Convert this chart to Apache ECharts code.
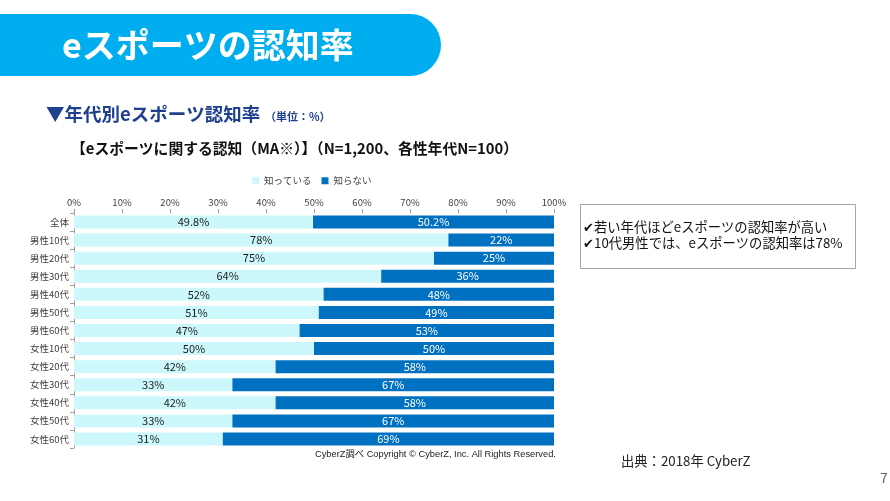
<!DOCTYPE html>
<html><head><meta charset="utf-8">
<script src="https://cdn.jsdelivr.net/npm/echarts@6/dist/echarts.min.js"></script>
<style>html,body{margin:0;padding:0;background:#fff}#c{width:890px;height:501px}</style>
</head><body><div id="c"></div>
<script>
const categories = ['全体','男性10代','男性20代','男性30代','男性40代','男性50代','男性60代','女性10代','女性20代','女性30代','女性40代','女性50代','女性60代'];
const known = [49.8,78,75,64,52,51,47,50,42,33,42,33,31];
const unknown = [50.2,22,25,36,48,49,53,50,58,67,58,67,69];
const seriesNames = ['知っている','知らない'];
const F = '"Noto Sans CJK JP","Noto Sans",sans-serif';
const chart = echarts.init(document.getElementById('c'));
chart.setOption({
  backgroundColor:'#fff',
  animation:false,
  textStyle:{fontFamily:F},
  legend:{
    data:seriesNames, left:247, top:171, icon:'rect', itemWidth:7, itemHeight:7, itemGap:10,
    textStyle:{fontSize:9.5, color:'#404040', fontFamily:F}
  },
  grid:{left:74, right:336, top:213, height:235, containLabel:false},
  xAxis:{
    type:'value', position:'top', min:0, max:100, interval:10,
    axisLabel:{formatter:'{value}%', fontSize:9.5, color:'#404040', margin:6, fontFamily:F},
    axisLine:{show:false},
    axisTick:{show:true, length:4, lineStyle:{color:'#a0a0a0'}},
    splitLine:{show:false}
  },
  yAxis:{
    type:'category', data:categories, inverse:true,
    axisLabel:{fontSize:9.5, color:'#404040', margin:5, fontFamily:F},
    axisLine:{show:true, lineStyle:{color:'#a0a0a0'}},
    axisTick:{show:true, length:4, lineStyle:{color:'#a0a0a0'}}
  },
  series:[
    {name:seriesNames[0], type:'bar', stack:'a', data:known, barWidth:13,
     itemStyle:{color:'#CCF7FB'},
     label:{show:true, position:'inside', formatter:p=>p.value+'%', color:'#1a1a1a', fontSize:11, fontFamily:F}},
    {name:seriesNames[1], type:'bar', stack:'a', data:unknown, barWidth:13,
     itemStyle:{color:'#0070C0'},
     label:{show:true, position:'inside', formatter:p=>p.value+'%', color:'#fff', fontSize:11, fontFamily:F}}
  ],
  graphic:[
    {type:'rect', shape:{x:-40, y:14, width:481, height:62, r:31}, style:{fill:'#00AEEF'}},
    {type:'text', left:62, top:28, style:{text:'eスポーツの認知率', fill:'#fff', font:'bold 34px '+F}},
    {type:'text', left:46, top:105, style:{text:'▼年代別eスポーツ認知率', fill:'#1F3F8F', font:'bold 18.5px '+F}},
    {type:'text', left:265, top:111, style:{text:'（単位：%）', fill:'#1F3F8F', font:'bold 11px '+F}},
    {type:'text', left:71, top:141, style:{text:'【eスポーツに関する認知（MA※）】（N=1,200、各性年代N=100）', fill:'#111', font:'bold 14.8px '+F}},
    {type:'rect', shape:{x:580.5, y:204.5, width:275, height:64}, style:{fill:'#fff', stroke:'#a6a6a6', lineWidth:1}},
    {type:'text', left:583, top:220, style:{text:'✔若い年代ほどeスポーツの認知率が高い', fill:'#111', font:'13.3px '+F}},
    {type:'text', left:583, top:236, style:{text:'✔10代男性では、eスポーツの認知率は78%', fill:'#111', font:'13.3px '+F}},
    {type:'text', left:315, top:450, style:{text:'CyberZ調べ Copyright © CyberZ, Inc. All Rights Reserved.', fill:'#222', font:'9.3px "Liberation Sans",'+F}},
    {type:'text', left:621, top:454, style:{text:'出典：2018年 CyberZ', fill:'#222', font:'13.3px '+F}},
    {type:'text', left:880, top:471, style:{text:'7', fill:'#666', font:'14px '+F}}
  ]
});
</script></body></html>
